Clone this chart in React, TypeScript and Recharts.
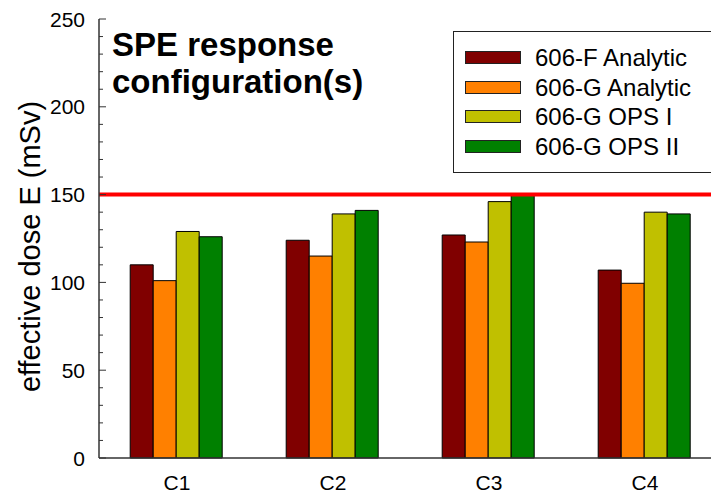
import { Bar, BarChart, Legend, ReferenceLine, XAxis, YAxis } from "recharts"

const categories = ["C1", "C2", "C3", "C4"]
const f606Analytic = [110, 124, 127, 107]
const g606Analytic = [101, 115, 123, 99.5]
const g606OpsI = [129, 139, 146, 140]
const g606OpsII = [126, 141, 150, 139]
const yTicks = [0, 10, 20, 30, 40, 50, 60, 70, 80, 90, 100, 110, 120, 130, 140, 150, 160, 170, 180, 190, 200, 210, 220, 230, 240, 250]
const doseLimit = 150

const series = [
  { key: "606-F Analytic", values: f606Analytic, color: "#800000" },
  { key: "606-G Analytic", values: g606Analytic, color: "#ff8000" },
  { key: "606-G OPS I", values: g606OpsI, color: "#c0c000" },
  { key: "606-G OPS II", values: g606OpsII, color: "#008000" },
]

const data = categories.map((name, i) => {
  const row: Record<string, string | number> = { name }
  series.forEach((s) => {
    row[s.key] = s.values[i]
  })
  return row
})

const font = "'Liberation Sans', Arial, sans-serif"
const axisColor = "#333"
// plot box edges (set by YAxis width and the top margin)
const plotLeft = 99
const plotTop = 19

function YTick({ y, payload }: any) {
  const major = payload.value % 50 === 0
  return (
    <g>
      <line x1={plotLeft} x2={plotLeft + (major ? 7 : 4)} y1={y} y2={y} stroke={axisColor} strokeWidth={1} />
      {major && (
        <text x={plotLeft - 14} y={y} dy="0.36em" textAnchor="end" fontSize={21} fontFamily={font} fill="#000">
          {payload.value}
        </text>
      )}
    </g>
  )
}

function TopTick({ x }: any) {
  return <line x1={x} x2={x} y1={plotTop} y2={plotTop + 6} stroke={axisColor} strokeWidth={1} />
}

function LegendBox() {
  return (
    <div
      style={{
        border: "1px solid #222",
        background: "#fff",
        padding: "11px 0",
        fontFamily: font,
        fontSize: 24,
        color: "#000",
      }}
    >
      {series.map((s) => (
        <div key={s.key} style={{ display: "flex", alignItems: "center", height: 29.5 }}>
          <div
            style={{
              marginLeft: 11,
              width: 54,
              height: 11,
              background: s.color,
              border: "1px solid #222",
            }}
          />
          <span style={{ marginLeft: 14, lineHeight: "29.5px" }}>{s.key}</span>
        </div>
      ))}
    </div>
  )
}

export default function App() {
  return (
    <div style={{ position: "fixed", left: 0, top: 0, width: 711, height: 495, overflow: "hidden", background: "#fff" }}>
      <BarChart
        width={740}
        height={495}
        data={data}
        margin={{ top: plotTop, right: 17, bottom: 0, left: 0 }}
        barCategoryGap="20%"
        barGap={0}
      >
        <XAxis
          dataKey="name"
          height={37}
          tickLine={false}
          tickSize={0}
          tickMargin={17}
          axisLine={{ stroke: axisColor, strokeWidth: 1.5 }}
          tick={{ fill: "#000", fontSize: 21, fontFamily: font }}
        />
        <XAxis
          xAxisId="top"
          orientation="top"
          dataKey="name"
          height={0}
          tickSize={0}
          tickMargin={0}
          axisLine={{ stroke: axisColor, strokeWidth: 1.5 }}
          tick={<TopTick />}
        />
        <YAxis
          width={plotLeft}
          domain={[0, 250]}
          ticks={yTicks}
          interval={0}
          tickSize={0}
          tickMargin={0}
          axisLine={{ stroke: axisColor, strokeWidth: 1.5 }}
          tick={<YTick />}
          label={{
            content: ({ viewBox }: any) => {
              const cy = viewBox.y + viewBox.height / 2 + 8
              return (
                <text
                  x={40}
                  y={cy}
                  transform={`rotate(-90, 40, ${cy})`}
                  textAnchor="middle"
                  fontSize={29}
                  fontFamily={font}
                  fill="#000"
                >
                  effective dose E (mSv)
                </text>
              )
            },
          }}
        />
        {series.map((s) => (
          <Bar key={s.key} dataKey={s.key} fill={s.color} stroke="#000" strokeWidth={1} isAnimationActive={false} />
        ))}
        <ReferenceLine y={doseLimit} stroke="#ff0000" strokeWidth={4} />
        <text x={112} y={56} fontSize={33} fontWeight="bold" fontFamily={font} fill="#000">
          SPE response
        </text>
        <text x={112} y={93} fontSize={33} fontWeight="bold" fontFamily={font} fill="#000">
          configuration(s)
        </text>
        <Legend
          layout="vertical"
          align="center"
          verticalAlign="middle"
          wrapperStyle={{ top: 31, left: 453, width: 280 }}
          content={() => <LegendBox />}
        />
      </BarChart>
    </div>
  )
}
